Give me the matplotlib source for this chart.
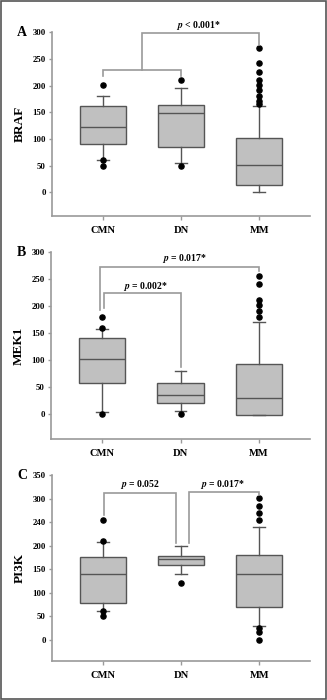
import matplotlib
matplotlib.use("Agg")
import matplotlib.pyplot as plt
from matplotlib.patches import Rectangle

plt.rcParams['font.family'] = ['Liberation Serif', 'DejaVu Serif']
plt.rcParams['font.weight'] = 'bold'
plt.rcParams['mathtext.fontset'] = 'stix'

categories = ["CMN", "DN", "MM"]

# Panel A: BRAF  (whislo, q1, median, q3, whishi)
braf_stats = [[61, 91, 122, 161, 181], [54, 84, 148, 164, 195], [0, 13, 51, 101, 162]]
braf_fliers = [[201, 61, 49], [211, 50], [271, 242, 226, 211, 201, 191, 181, 172, 166]]

# Panel B: MEK1
mek1_stats = [[3, 58, 101, 140, 158], [5, 20, 35, 58, 80], [-1, -1, 30, 93, 171]]
mek1_fliers = [[180, 160, 0], [0], [256, 241, 211, 201, 191, 180]]

# Panel C: PI3K
pi3k_stats = [[62, 79, 140, 175, 208], [140, 159, 171, 179, 200], [30, 70, 140, 180, 240]]
pi3k_fliers = [[255, 210, 62, 50], [120], [301, 285, 270, 255, 25, 16, 0]]

yticks_ab = [0, 50, 100, 150, 200, 250, 300]
yticklabels_ab = ["0", "50", "100", "150", "200", "250", "300"]
yticks_c = [0, 50, 100, 150, 200, 250, 300, 350]
yticklabels_c = ["0", "50", "100", "150", "200", "240", "300", "350"]

GRAY = "#9a9a9a"
EDGE = "#555555"

fig = plt.figure(figsize=(3.27, 7.0), dpi=100)
fig.patches.append(Rectangle((0.002, 0.001), 0.994, 0.997, transform=fig.transFigure,
                             fill=False, edgecolor="#555555", linewidth=1.2))

def draw_panel(rect, stats, fliers, ylabel, yticks, yticklabels, ylim, letter):
    ax = fig.add_axes(rect)
    bxs = []
    for s, f in zip(stats, fliers):
        bxs.append(dict(whislo=s[0], q1=s[1], med=s[2], q3=s[3], whishi=s[4], fliers=f))
    ax.bxp(bxs, positions=[1, 2, 3], widths=0.59, patch_artist=True, showfliers=True,
           boxprops=dict(facecolor="#c0c0c0", edgecolor=EDGE, linewidth=1.0),
           medianprops=dict(color=EDGE, linewidth=1.0),
           whiskerprops=dict(color=EDGE, linewidth=1.0),
           capprops=dict(color=EDGE, linewidth=1.0),
           capwidths=0.15,
           flierprops=dict(marker="o", markerfacecolor="black", markeredgecolor="black",
                           markersize=3.7, linestyle="none"))
    ax.set_xlim(0.35, 3.65)
    ax.set_ylim(*ylim)
    ax.set_yticks(yticks)
    ax.set_yticklabels(yticklabels)
    ax.set_xticks([1, 2, 3])
    ax.set_xticklabels(categories)
    for sp in ["top", "right"]:
        ax.spines[sp].set_visible(False)
    for sp in ["left", "bottom"]:
        ax.spines[sp].set_color(GRAY)
        ax.spines[sp].set_linewidth(1.2)
    ax.spines["left"].set_bounds(ylim[0], yticks[-1])
    ax.tick_params(axis="y", labelsize=6.3, length=2.5, width=1.0, color=GRAY, pad=2)
    ax.tick_params(axis="x", labelsize=7.6, length=3, width=1.0, color=GRAY, pad=4)
    ax.set_ylabel(ylabel, fontsize=9.5, fontweight="bold", labelpad=5)
    ax.text(-0.115, 1.0, letter, transform=ax.transAxes, fontsize=10, fontweight="bold",
            ha="center", va="center")
    return ax

def bracket(ax, pts):
    xs = [p[0] for p in pts]
    ys = [p[1] for p in pts]
    ax.plot(xs, ys, color=GRAY, linewidth=1.2, clip_on=False, solid_joinstyle="miter")

def ptext(ax, x, y, rest):
    ax.text(x, y, r"$\mathbfit{p}$" + rest, ha="center", va="center", fontsize=7,
            fontweight="bold", clip_on=False)

# Panel A
axA = draw_panel([0.159, 0.691, 0.789, 0.263], braf_stats, braf_fliers, "BRAF",
                 yticks_ab, yticklabels_ab, (-45, 300), "A")
bracket(axA, [(1, 218), (1, 230), (2, 230), (2, 218)])
bracket(axA, [(1.5, 230), (1.5, 298), (3, 298), (3, 276)])
ptext(axA, 2.22, 313, " < 0.001*")

# Panel B
axB = draw_panel([0.156, 0.373, 0.792, 0.267], mek1_stats, mek1_fliers, "MEK1",
                 yticks_ab, yticklabels_ab, (-46, 300), "B")
bracket(axB, [(0.97, 193), (0.97, 272), (3, 272), (3, 264)])
bracket(axB, [(1.02, 196), (1.02, 225), (2, 225), (2, 87)])
ptext(axB, 2.05, 288, " = 0.017*")
ptext(axB, 1.55, 236, " = 0.002*")

# Panel C
axC = draw_panel([0.159, 0.056, 0.789, 0.265], pi3k_stats, pi3k_fliers, "PI3K",
                 yticks_c, yticklabels_c, (-45, 350), "C")
bracket(axC, [(1.02, 266), (1.02, 312), (1.94, 312), (1.94, 205)])
bracket(axC, [(2.1, 205), (2.1, 315), (3, 315), (3, 308)])
ptext(axC, 1.47, 330, " = 0.052")
ptext(axC, 2.53, 330, " = 0.017*")

fig.savefig("out.png", dpi=100)
